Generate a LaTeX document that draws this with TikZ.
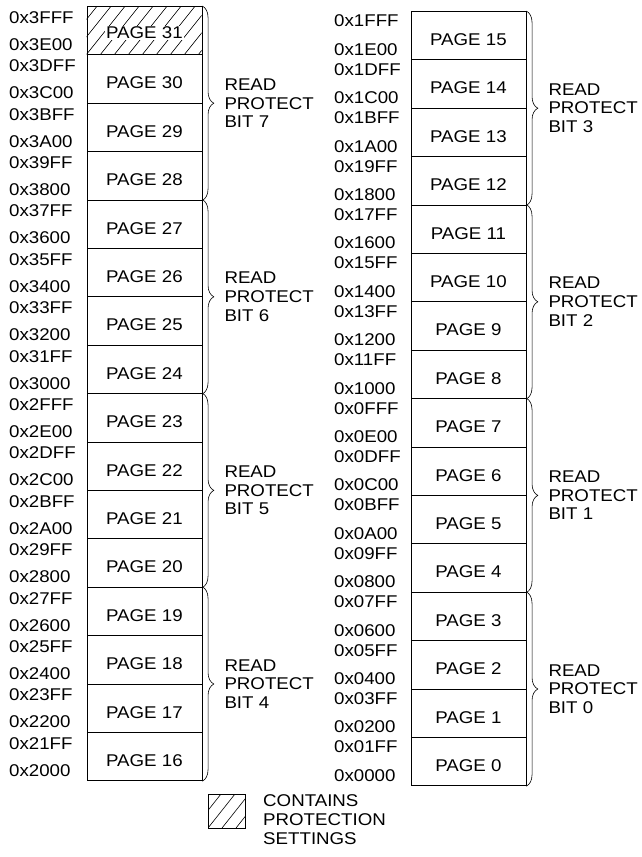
\documentclass[tikz,border=0pt]{standalone}
\usepackage{fontspec}
\setmainfont[FakeStretch=1.1]{Liberation Sans}
\usetikzlibrary{decorations.pathreplacing}
\begin{document}
\begin{tikzpicture}[x=1pt,y=-1pt,
  every node/.style={font=\fontsize{17}{18.7}\selectfont, inner sep=0pt},
  pagebox/.style={draw, line width=0.8pt, minimum width=115pt, minimum height=48.4pt, anchor=north west},
  addr/.style={anchor=west},
  hatch/.style={line width=0.6pt},
  bracestyle/.style={decorate, decoration={brace, amplitude=11.5pt}, line width=0.6pt},
  bitlabel/.style={anchor=west, align=left}]
\useasboundingbox (0,0) rectangle (642,857);
% hatch of page 31
\begin{scope}
  \clip (86.5,6) rectangle (201.5,54.4);
  \foreach \i in {-4,...,9} \draw[hatch] (86.5+\i*14,54.4) -- ++(38.7,-48.4);
\end{scope}
% left column
\foreach \hi/\lo [count=\k from 0] in {3FFF/3E00,3DFF/3C00,3BFF/3A00,39FF/3800,37FF/3600,35FF/3400,33FF/3200,31FF/3000,2FFF/2E00,2DFF/2C00,2BFF/2A00,29FF/2800,27FF/2600,25FF/2400,23FF/2200,21FF/2000}{
  \pgfmathtruncatemacro{\n}{31-\k}
  \pgfmathsetmacro{\t}{6+\k*48.4}
  \node[pagebox] (p\n) at (86.5,\t) {};
  \node[addr] (h\n) at (9,\t+11.5) {0x\hi};
  \node[addr] (l\n) at (9,\t+38.4) {0x\lo};
}
% right column
\foreach \hi/\lo [count=\k from 0] in {1FFF/1E00,1DFF/1C00,1BFF/1A00,19FF/1800,17FF/1600,15FF/1400,13FF/1200,11FF/1000,0FFF/0E00,0DFF/0C00,0BFF/0A00,09FF/0800,07FF/0600,05FF/0400,03FF/0200,01FF/0000}{
  \pgfmathtruncatemacro{\n}{15-\k}
  \pgfmathsetmacro{\t}{11+\k*48.4}
  \node[pagebox] (p\n) at (410.5,\t) {};
  \node[addr] (h\n) at (334,\t+10) {0x\hi};
  \node[addr] (l\n) at (334,\t+38.4) {0x\lo};
}
% page titles
\foreach \n in {0,...,30} \node (t\n) at ([yshift=-4pt]p\n.center) {PAGE \n};
\node[fill=white, inner sep=1pt] (t31) at ([yshift=-2pt]p31.center) {PAGE 31};
% braces and labels
\foreach \a/\b/\bit in {31/28/7,27/24/6,23/20/5,19/16/4,15/12/3,11/8/2,7/4/1,3/0/0}{
  \draw[bracestyle] (p\a.north east) -- (p\b.south east) coordinate[pos=0.5] (m\bit);
  \node[bitlabel] (r\bit) at ([xshift=22pt]m\bit) {READ\\PROTECT\\BIT \bit};
}
% legend
\begin{scope}
  \clip (208,794) rectangle (245,828);
  \foreach \i in {-3,...,3} \draw[hatch] (208+\i*14,828) -- ++(27,-34);
\end{scope}
\node[draw, line width=0.8pt, minimum width=37pt, minimum height=34pt, anchor=north west] (leg) at (208,794) {};
\node[bitlabel] (legtext) at (263,819.6) {CONTAINS\\PROTECTION\\SETTINGS};
\end{tikzpicture}
\end{document}
